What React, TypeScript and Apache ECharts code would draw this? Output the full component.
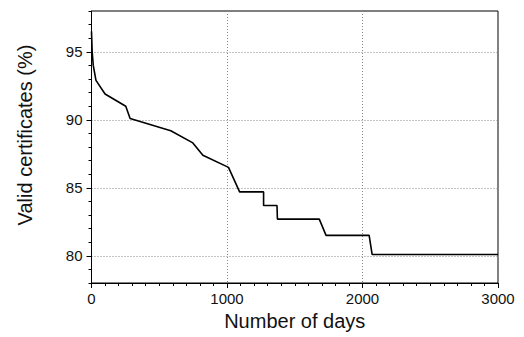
import React, { useEffect, useRef } from "react";
import * as echarts from "echarts";

const days: number[] = [0, 5, 13, 33, 100, 253, 285, 585, 748, 822, 1011, 1093, 1270, 1270, 1369, 1372, 1681, 1731, 2049, 2071, 3000];
const validPct: number[] = [96.5, 95.0, 94.0, 92.9, 91.9, 91.0, 90.1, 89.2, 88.3, 87.4, 86.5, 84.7, 84.7, 83.7, 83.7, 82.7, 82.7, 81.5, 81.5, 80.1, 80.1];
const yMajorTicks: number[] = [80, 85, 90, 95];
const xTitle = "Number of days";
const yTitle = "Valid certificates (%)";

const FONT = "'Liberation Sans', Arial, Helvetica, sans-serif";
const GRID_LINE = { color: "#888", type: [1, 2], width: 1 };

export default function App() {
  const ref = useRef<HTMLDivElement>(null);
  useEffect(() => {
    if (!ref.current) return;
    const chart = echarts.init(ref.current, undefined, { renderer: "svg" });
    const data = days.map((d, i) => [d, validPct[i]]);
    chart.setOption({
      animation: false,
      backgroundColor: "#fff",
      grid: {
        left: 91.5,
        right: 26,
        top: 11,
        bottom: 54,
        show: true,
        borderColor: "#000",
        borderWidth: 1,
        backgroundColor: "transparent",
      },
      xAxis: {
        type: "value",
        min: 0,
        max: 3000,
        interval: 1000,
        name: xTitle,
        nameLocation: "middle",
        nameGap: 27,
        nameTextStyle: { fontFamily: FONT, fontSize: 20, color: "#111" },
        axisLine: { show: true, lineStyle: { color: "#000", width: 1 } },
        axisTick: { show: true, inside: false, length: 5, lineStyle: { color: "#000" } },
        minorTick: { show: true, splitNumber: 10, length: 3, lineStyle: { color: "#000" } },
        axisLabel: { fontFamily: FONT, fontSize: 15, color: "#111", margin: 8, formatter: (v: number) => String(v) },
        splitLine: { show: true, lineStyle: GRID_LINE },
      },
      yAxis: [
        {
          type: "value",
          min: 78,
          max: 98,
          splitNumber: 4,
          name: yTitle,
          nameLocation: "middle",
          nameGap: 57,
          nameTextStyle: { fontFamily: FONT, fontSize: 20, color: "#111", padding: [0, 0, 0, 24] },
          axisLine: { show: true, lineStyle: { color: "#000", width: 1 } },
          axisTick: { show: true, inside: false, length: 5, customValues: yMajorTicks, lineStyle: { color: "#000" } },
          axisLabel: { fontFamily: FONT, fontSize: 15, color: "#111", margin: 9, customValues: yMajorTicks, formatter: (v: number) => String(v) },
          splitLine: { show: true, lineStyle: GRID_LINE },
        },
        {
          type: "value",
          position: "left",
          min: 78,
          max: 98,
          interval: 1,
          axisLine: { show: false },
          axisTick: { show: true, inside: false, length: 3, lineStyle: { color: "#000" } },
          axisLabel: { show: false },
          splitLine: { show: false },
        },
      ],
      series: [
        {
          type: "line",
          data,
          yAxisIndex: 0,
          showSymbol: false,
          symbol: "none",
          lineStyle: { color: "#000", width: 1.6 },
          z: 5,
        },
      ],
    });
    return () => chart.dispose();
  }, []);
  return <div ref={ref} style={{ width: 524, height: 337, position: "absolute", left: 0, top: 0 }} />;
}
